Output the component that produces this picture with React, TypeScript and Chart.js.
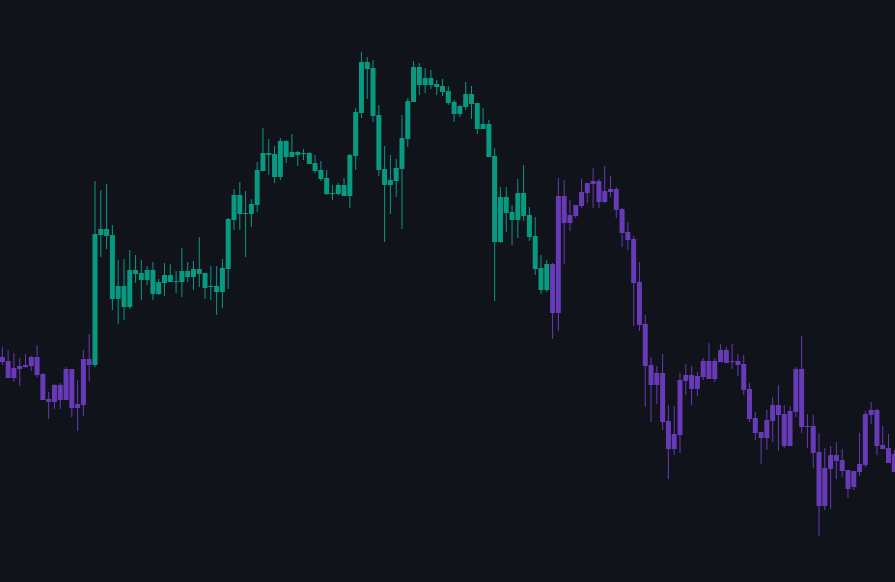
import { useEffect, useRef } from "react";
import Chart from "chart.js/auto";

// OHLC, one entry per candle (155 candles)
const opens = [
  238, 239, 222, 231, 233, 234, 243, 226, 201, 198, 215, 200, 231, 192, 195, 241,
  235, 365, 371, 365, 301, 314, 293, 330, 327, 320, 330, 306, 317, 325, 318, 318,
  329, 323, 331, 327, 313, 314, 308, 331, 380, 405, 386, 386, 395, 429, 447, 446,
  423, 459, 443, 448, 446, 447, 437, 430, 422, 406, 406, 415, 404, 444, 487, 538,
  532, 485, 431, 415, 419, 431, 461, 498, 533, 515, 522, 516, 514, 509, 498, 486,
  493, 506, 497, 471, 476, 444, 358, 403, 388, 380, 407, 385, 364, 332, 310, 336,
  287, 404, 377, 384, 394, 407, 416, 419, 398, 408, 411, 391, 368, 361, 318, 276,
  235, 215, 227, 179, 151, 165, 219, 225, 211, 223, 239, 221, 238, 250, 238, 239,
  236, 211, 182, 168, 162, 179, 195, 186, 154, 188, 231, 173, 174, 148, 94, 131,
  145, 140, 130, 113, 128, 135, 185, 190, 155, 152, 146,
];
const highs = [
  253, 250, 247, 242, 246, 244, 255, 227, 208, 216, 217, 233, 231, 220, 250, 266,
  419, 410, 416, 375, 340, 341, 350, 345, 340, 334, 338, 321, 337, 336, 329, 352,
  338, 339, 363, 327, 334, 334, 341, 382, 411, 418, 409, 401, 438, 472, 461, 454,
  462, 460, 466, 449, 451, 448, 445, 439, 430, 415, 417, 422, 446, 492, 548, 543,
  540, 495, 454, 445, 441, 485, 502, 539, 537, 532, 530, 520, 521, 514, 500, 495,
  518, 514, 497, 492, 480, 452, 413, 413, 395, 421, 435, 393, 383, 345, 340, 337,
  422, 420, 400, 395, 421, 417, 432, 421, 434, 424, 413, 392, 378, 364, 338, 285,
  243, 234, 246, 195, 194, 227, 236, 234, 228, 242, 257, 242, 256, 253, 256, 246,
  245, 217, 188, 168, 190, 203, 215, 195, 194, 233, 264, 186, 185, 167, 152, 154,
  158, 151, 130, 129, 167, 189, 198, 191, 174, 166, 150,
];
const lows = [
  235, 222, 218, 214, 232, 229, 223, 200, 181, 191, 191, 200, 183, 169, 184, 219,
  233, 343, 351, 290, 276, 280, 291, 317, 300, 315, 300, 305, 304, 318, 307, 303,
  318, 310, 313, 301, 300, 285, 292, 311, 370, 370, 343, 373, 388, 429, 425, 417,
  420, 437, 443, 434, 440, 436, 427, 419, 405, 400, 405, 404, 392, 430, 482, 501,
  478, 424, 358, 386, 403, 371, 453, 498, 505, 507, 511, 505, 504, 495, 478, 483,
  490, 481, 466, 471, 443, 299, 357, 368, 355, 362, 379, 359, 325, 306, 308, 261,
  269, 336, 369, 382, 392, 397, 392, 392, 397, 403, 382, 353, 350, 274, 269, 193,
  178, 196, 170, 121, 145, 147, 205, 195, 204, 220, 221, 218, 238, 237, 231, 224,
  205, 178, 160, 136, 150, 158, 149, 152, 154, 183, 167, 152, 132, 64, 90, 91,
  121, 123, 102, 110, 124, 133, 176, 145, 151, 137, 128,
];
const closes = [
  243, 222, 232, 234, 235, 243, 225, 200, 198, 215, 200, 231, 192, 196, 241, 235,
  366, 371, 364, 301, 314, 293, 330, 326, 320, 330, 306, 318, 325, 318, 319, 329,
  323, 331, 326, 312, 314, 308, 332, 381, 405, 386, 387, 396, 430, 447, 445, 423,
  459, 443, 448, 445, 447, 436, 429, 421, 406, 407, 415, 404, 445, 488, 538, 531,
  484, 430, 415, 420, 432, 462, 499, 533, 515, 522, 515, 513, 508, 497, 486, 494,
  506, 496, 471, 476, 443, 358, 403, 387, 380, 407, 384, 363, 331, 310, 336, 287,
  404, 377, 385, 395, 408, 417, 419, 398, 409, 411, 390, 367, 360, 317, 275, 234,
  215, 227, 178, 151, 166, 220, 225, 211, 224, 239, 221, 239, 250, 237, 239, 235,
  210, 181, 167, 162, 180, 195, 185, 154, 189, 231, 173, 174, 147, 94, 132, 145,
  139, 129, 111, 129, 136, 186, 190, 154, 151, 137, 128,
];

// the middle run of candles is drawn teal, the rest purple
const tealFrom = 16;
const tealTo = 94;

const TEAL = "#089981";
const PURPLE = "#673ab7";
const BG = "#11131b";

export default function App() {
  const chartRef = useRef<HTMLCanvasElement>(null);
  const chartInstance = useRef<Chart | null>(null);

  useEffect(() => {
    if (!chartRef.current) return;
    document.body.style.margin = "0";
    document.body.style.background = BG;

    const colors = opens.map((_, i) => (i >= tealFrom && i <= tealTo ? TEAL : PURPLE));

    if (chartInstance.current) {
      chartInstance.current.destroy();
    }

    chartInstance.current = new Chart(chartRef.current, {
      type: "bar",
      data: {
        datasets: [
          {
            label: "body",
            data: opens.map((o, i) => ({ x: i, y: [o, closes[i]] })) as any,
            backgroundColor: colors,
            borderWidth: 0,
            barThickness: 5,
            minBarLength: 1,
            grouped: false,
            inflateAmount: 0,
          },
          {
            label: "wick",
            data: lows.map((l, i) => ({ x: i, y: [l, highs[i]] })) as any,
            backgroundColor: colors,
            borderWidth: 0,
            barThickness: 1,
            grouped: false,
            inflateAmount: 0,
          },
        ],
      },
      options: {
        animation: false,
        responsive: true,
        maintainAspectRatio: false,
        layout: { padding: 0 },
        plugins: {
          legend: { display: false },
          tooltip: { enabled: false },
        },
        scales: {
          x: {
            type: "linear",
            display: false,
            min: -0.402,
            max: 154.12,
            offset: false,
          },
          y: {
            display: false,
            min: 18,
            max: 600,
          },
        },
      },
    });

    return () => {
      if (chartInstance.current) {
        chartInstance.current.destroy();
        chartInstance.current = null;
      }
    };
  }, []);

  return (
    <div style={{ position: "relative", width: 895, height: 582, background: BG }}>
      <canvas ref={chartRef} />
    </div>
  );
}
